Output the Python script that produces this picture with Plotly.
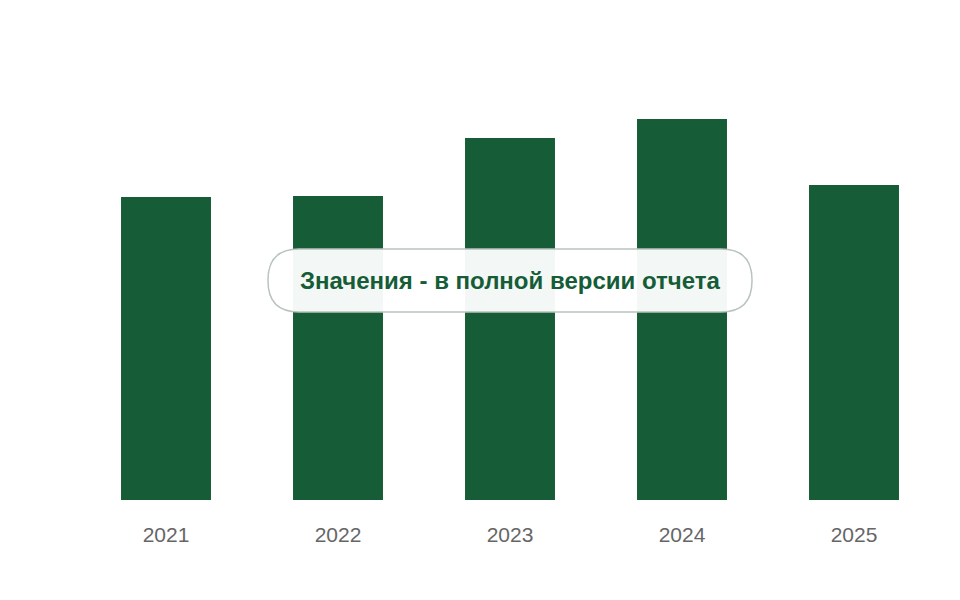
import plotly.graph_objects as go

# data (bar heights, arbitrary units)
years = ["2021", "2022", "2023", "2024", "2025"]
values = [303, 304, 362, 381, 315]
note = "Значения - в полной версии отчета"

fig = go.Figure(go.Bar(x=years, y=values, marker_color="#155c37", marker_line_width=0))

# rounded box behind the note (paper coords)
x0, x1, y0, y1 = 0.2186, 0.7814, 0.47, 0.6275
rx, ry = 0.036, 0.0775
path = (f"M {x0+rx},{y0} L {x1-rx},{y0} Q {x1},{y0} {x1},{y0+ry} "
        f"L {x1},{y1-ry} Q {x1},{y1} {x1-rx},{y1} L {x0+rx},{y1} "
        f"Q {x0},{y1} {x0},{y1-ry} L {x0},{y0+ry} Q {x0},{y0} {x0+rx},{y0} Z")
fig.add_shape(type="path", path=path, xref="paper", yref="paper",
              fillcolor="rgba(255,255,255,0.95)", line=dict(color="#b8c4bc", width=1.5))
fig.add_annotation(text=f"<b>{note}</b>", x=0.5, y=(y0 + y1) / 2, xref="paper", yref="paper",
                   showarrow=False, font=dict(size=24, color="#155c37", family="Liberation Sans"))

fig.update_layout(
    width=960, height=600,
    margin=dict(l=72, r=28, t=92, b=108),
    plot_bgcolor="white", paper_bgcolor="white",
    bargap=0.477, showlegend=False,
    font=dict(family="Liberation Sans"),
    xaxis=dict(showgrid=False, showline=False, ticks="outside", ticklen=16,
               tickcolor="rgba(0,0,0,0)",
               tickfont=dict(size=21, color="#666666")),
    yaxis=dict(range=[0, 400], visible=False),
)

fig.write_html("out.html")
